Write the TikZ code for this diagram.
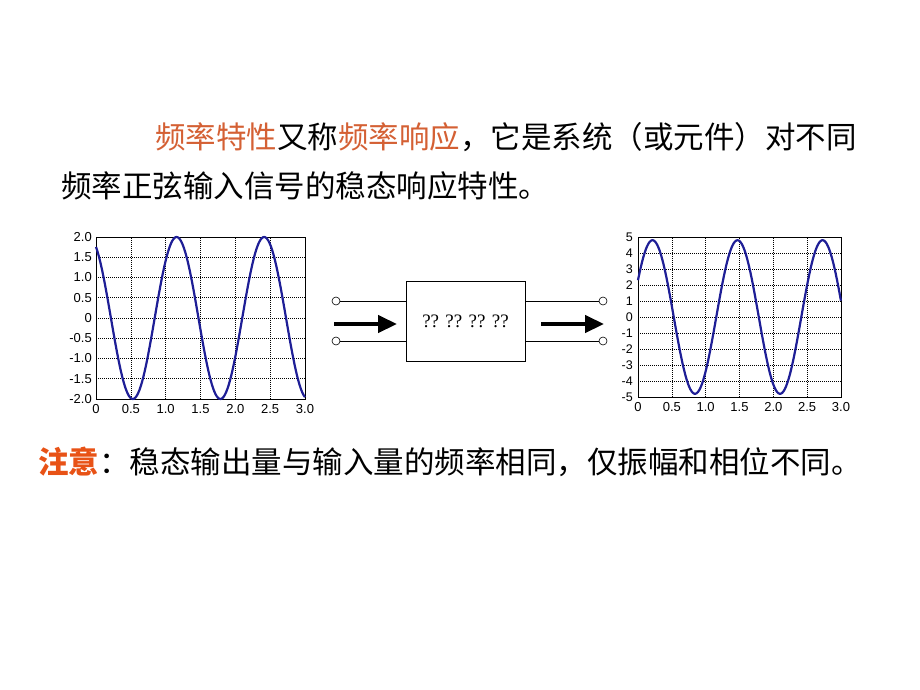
\documentclass[tikz,border=0pt]{standalone}
\usepackage{fontspec}
\setmainfont{Liberation Serif}
\newfontfamily\cjk{Noto Sans CJK SC}
\newfontfamily\tickfont{Liberation Sans}
\usetikzlibrary{arrows.meta,positioning}
\definecolor{hilite}{RGB}{212,96,52}
\definecolor{notecol}{RGB}{232,82,22}
\definecolor{wave}{RGB}{30,30,150}
\begin{document}
\begin{tikzpicture}[x=1pt,y=-1pt]
\tikzset{cjktext/.style = {inner sep=0pt, font=\cjk\fontsize{30.5}{36}\selectfont}}
\tikzset{ticklab/.style = {inner sep=0pt, font=\tickfont\fontsize{13}{13}\selectfont}}
\tikzset{gridline/.style = {line width=0.6pt, dash pattern=on 1pt off 1pt}}
\tikzset{frame/.style = {line width=1pt}}
\tikzset{curve/.style = {draw=wave, line width=2.2pt, line join=round}}
\tikzset{terminal/.style = {shape=circle, draw, fill=white, line width=0.6pt, minimum size=8pt, inner sep=0pt}}
\tikzset{sysbox/.style = {draw, line width=0.8pt, minimum width=119pt, minimum height=80pt, font=\fontsize{19}{19}\selectfont}}
\tikzset{bigarrow/.style = {line width=4.5pt, -{Triangle[length=19pt,width=17pt]}}}
\useasboundingbox (0,0) rectangle (920,690);
% text above the plots
\node[cjktext, anchor=west] (intro1) at (155,137) {\textcolor{hilite}{频率特性}又称\textcolor{hilite}{频率响应}，它是系统（或元件）对不同};
\node[cjktext, anchor=west] (intro2) at (61,186) {频率正弦输入信号的稳态响应特性。};
% input signal
\begin{scope}[shift={(96,318)}, x=69.67pt, y=40.5pt]
\foreach \v in {0.5,1,...,2.5} \draw[gridline] (\v,-2) -- (\v,2);
\foreach \v in {-1.5,-1,...,1.5} \draw[gridline] (0,\v) -- (3,\v);
\draw[frame] (0,-2) rectangle (3,2);
\foreach \v/\t in {2/2.0,1.5/1.5,1/1.0,0.5/0.5,0/0,-0.5/-0.5,-1/-1.0,-1.5/-1.5,-2/-2.0}
  \node[ticklab, anchor=east] at ([xshift=-4pt]0,\v) {\t};
\foreach \v/\t in {0/0,0.5/0.5,1/1.0,1.5/1.5,2/2.0,2.5/2.5,3/3.0}
  \node[ticklab, anchor=north] at ([yshift=-5pt]\v,-2) {\t};
\draw[curve] plot[domain=0:3, samples=160] (\x, {2*cos(deg(5*\x+0.5))});
\end{scope}
% output signal
\begin{scope}[shift={(638,317)}, x=67.67pt, y=16pt]
\foreach \v in {0.5,1,...,2.5} \draw[gridline] (\v,-5) -- (\v,5);
\foreach \v in {-4,...,4} \draw[gridline] (0,\v) -- (3,\v);
\draw[frame] (0,-5) rectangle (3,5);
\foreach \v in {5,4,...,-5}
  \node[ticklab, anchor=east, font=\tickfont\fontsize{12.5}{12.5}\selectfont] at ([xshift=-5pt]0,\v) {\v};
\foreach \v/\t in {0/0,0.5/0.5,1/1.0,1.5/1.5,2/2.0,2.5/2.5,3/3.0}
  \node[ticklab, anchor=north] at ([yshift=-5pt]\v,-5) {\t};
\draw[curve] plot[domain=0:3, samples=160] (\x, {4.8*sin(deg(5*\x+0.5))});
\end{scope}
% system block with its terminals
\node[sysbox] (sys) at (465.5,321) {?? ?? ?? ??};
\node[terminal] (in1) at (336,301) {};
\node[terminal] (in2) at (336,341) {};
\node[terminal] (out1) at (603,301) {};
\node[terminal] (out2) at (603,341) {};
\draw[line width=0.8pt] (in1) -- (in1 -| sys.west);
\draw[line width=0.8pt] (in2) -- (in2 -| sys.west);
\draw[line width=0.8pt] (out1) -- (out1 -| sys.east);
\draw[line width=0.8pt] (out2) -- (out2 -| sys.east);
\coordinate (inA) at (334,324);
\coordinate (inB) at (397,324);
\coordinate (outA) at (541,324);
\coordinate (outB) at (604,324);
\draw[bigarrow] (inA) -- (inB);
\draw[bigarrow] (outA) -- (outB);
% note below
\node[cjktext, anchor=west] (note) at (38,462) {\textcolor{notecol}{\bfseries 注意}：稳态输出量与输入量的频率相同，仅振幅和相位不同。};
\end{tikzpicture}
\end{document}
